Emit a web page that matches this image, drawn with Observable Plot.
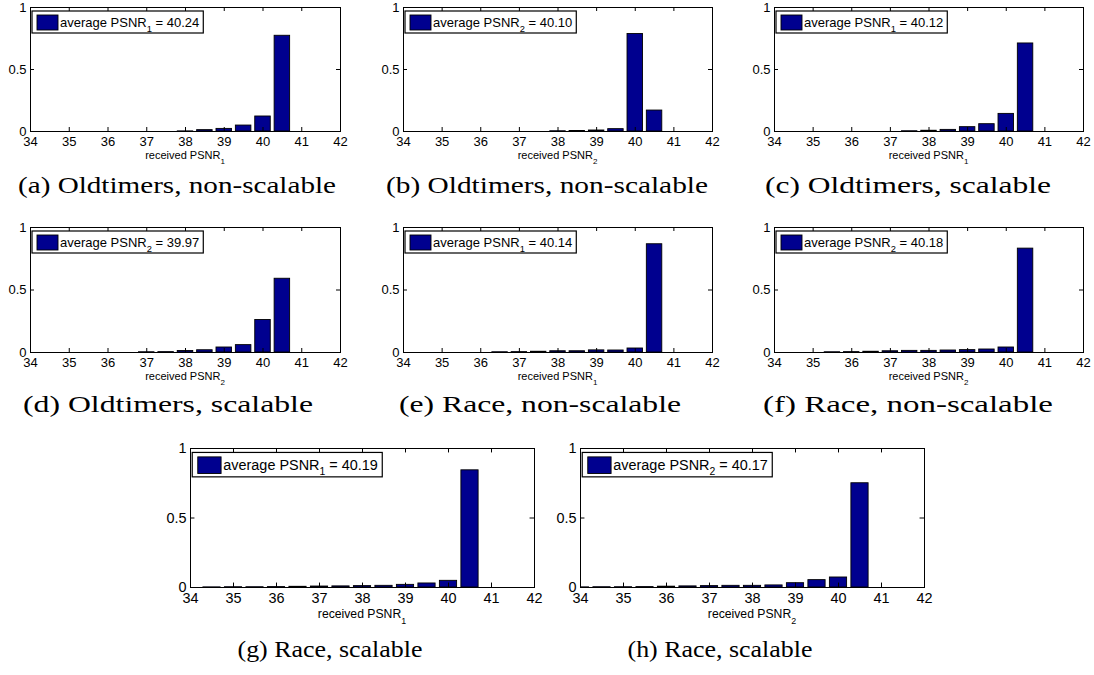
<!DOCTYPE html>
<html>
<head>
<meta charset="utf-8">
<script src="https://cdn.jsdelivr.net/npm/d3@7"></script>
<script src="https://cdn.jsdelivr.net/npm/@observablehq/plot@0.6"></script>
<style>
  html, body { margin: 0; padding: 0; background: #fff; }
  #fig { position: relative; width: 1094px; height: 675px; overflow: hidden; background: #fff; }
  #fig > svg { position: absolute; }
</style>
</head>
<body>
<div id="fig"></div>
<script>
// Histogram bin centres (received PSNR, dB) and axis ticks
const bins = [34, 34.5, 35, 35.5, 36, 36.5, 37, 37.5, 38, 38.5, 39, 39.5, 40, 40.5, 41, 41.5, 42];
const xTicks = [34, 35, 36, 37, 38, 39, 40, 41, 42];
const yTicks = [0, 0.5, 1];

// Relative frequency of the received PSNR per bin
const oldtimersNonScalable1 = [0, 0, 0, 0, 0, 0, 0, 0, 0.001, 0.011, 0.021, 0.048, 0.121, 0.772, 0, 0, 0];
const oldtimersNonScalable2 = [0, 0, 0, 0, 0, 0, 0, 0, 0.002, 0.004, 0.008, 0.019, 0.786, 0.169, 0, 0, 0];
const oldtimersScalable1    = [0, 0, 0, 0, 0, 0, 0, 0.002, 0.006, 0.013, 0.035, 0.059, 0.142, 0.710, 0, 0, 0];
const oldtimersScalable2    = [0, 0, 0, 0, 0, 0, 0.002, 0.003, 0.012, 0.018, 0.040, 0.059, 0.260, 0.590, 0, 0, 0];
const raceNonScalable1      = [0, 0, 0, 0, 0, 0.002, 0.003, 0.006, 0.010, 0.010, 0.017, 0.016, 0.032, 0.866, 0, 0, 0];
const raceNonScalable2      = [0, 0, 0, 0.002, 0.003, 0.006, 0.010, 0.013, 0.013, 0.016, 0.019, 0.024, 0.040, 0.831, 0, 0, 0];
const raceScalable1         = [0, 0.001, 0.002, 0.002, 0.003, 0.005, 0.007, 0.008, 0.010, 0.012, 0.019, 0.029, 0.048, 0.843, 0, 0, 0];
const raceScalable2         = [0.001, 0.002, 0.002, 0.003, 0.006, 0.008, 0.010, 0.012, 0.012, 0.015, 0.031, 0.053, 0.072, 0.750, 0, 0, 0];

const panelSeries  = [oldtimersNonScalable1, oldtimersNonScalable2, oldtimersScalable1, oldtimersScalable2,
                      raceNonScalable1, raceNonScalable2, raceScalable1, raceScalable2];
const panelStream  = ["1", "2", "1", "2", "1", "2", "1", "2"];
const panelAverage = ["40.24", "40.10", "40.12", "39.97", "40.14", "40.18", "40.19", "40.17"];
const panelCaption = ["(a) Oldtimers, non-scalable", "(b) Oldtimers, non-scalable", "(c) Oldtimers, scalable",
                      "(d) Oldtimers, scalable", "(e) Race, non-scalable", "(f) Race, non-scalable",
                      "(g) Race, scalable", "(h) Race, scalable"];

// Page layout: axes boxes (left, right, top, bottom), scale factor, caption placement
const frames = [
  {l: 30,  r: 340,  t: 7,   b: 131, s: 1},
  {l: 403, r: 712,  t: 7,   b: 131, s: 1},
  {l: 774, r: 1083, t: 7,   b: 131, s: 1},
  {l: 30,  r: 340,  t: 227, b: 352, s: 1},
  {l: 403, r: 712,  t: 227, b: 352, s: 1},
  {l: 774, r: 1083, t: 227, b: 352, s: 1},
  {l: 190, r: 534,  t: 448, b: 587, s: 1.11},
  {l: 580, r: 924,  t: 448, b: 587, s: 1.11}
];
const captionLayout = [
  {cx: 177, y: 193, w: 318}, {cx: 547, y: 193, w: 322}, {cx: 908, y: 193, w: 286},
  {cx: 168, y: 412, w: 290}, {cx: 540, y: 412, w: 282}, {cx: 908, y: 412, w: 290},
  {cx: 330, y: 657, w: 185}, {cx: 720, y: 657, w: 185}
];

const barColor = "#00008f";
const sans = "'Liberation Sans', Arial, Helvetica, sans-serif";
const fig = document.getElementById("fig");

frames.forEach((f, i) => {
  const s = f.s;
  const w = f.r - f.l, h = f.b - f.t;
  const mL = 40, mR = 12, mT = 10, mB = 24;
  const tick = 4 * s;
  const data = bins.map((x, k) => ({x, p: panelSeries[i][k]}));
  const chart = Plot.plot({
    width: w + mL + mR,
    height: h + mT + mB,
    marginLeft: mL, marginRight: mR, marginTop: mT, marginBottom: mB,
    x: {type: "linear", domain: [34, 42]},
    y: {type: "linear", domain: [0, 1]},
    style: {fontFamily: sans, fontSize: `${13 * s}px`, color: "#000", background: "transparent", overflow: "visible"},
    marks: [
      Plot.rect(data, {x1: d => d.x - 0.2, x2: d => d.x + 0.2, y1: 0, y2: "p",
                       fill: barColor, stroke: "#000", strokeWidth: 0.9, clip: true}),
      // inward ticks on all four sides
      Plot.tickX(xTicks, {x: d => d, insetTop: h - tick, stroke: "#000"}),
      Plot.tickX(xTicks, {x: d => d, insetBottom: h - tick, stroke: "#000"}),
      Plot.tickY(yTicks, {y: d => d, insetRight: w - tick, stroke: "#000"}),
      Plot.tickY(yTicks, {y: d => d, insetLeft: w - tick, stroke: "#000"}),
      Plot.frame({stroke: "#000", strokeWidth: 1}),
      Plot.axisX({ticks: xTicks, tickSize: 0, tickPadding: 5, label: null, tickFormat: d => String(d)}),
      Plot.axisY({ticks: yTicks, tickSize: 0, tickPadding: 4, label: null, tickFormat: d => String(d)})
    ]
  });
  chart.style.left = `${f.l - mL}px`;
  chart.style.top = `${f.t - mT}px`;
  fig.appendChild(chart);
});

// Legends, axis titles and sub-figure captions
const overlay = d3.select(fig).append("svg")
  .attr("width", 1094).attr("height", 675)
  .style("left", "0px").style("top", "0px")
  .attr("font-family", sans);

frames.forEach((f, i) => {
  const s = f.s;
  const fs = 13 * s;

  const g = overlay.append("g").attr("transform", `translate(${f.l + 2 * s},${f.t + 4 * s})`);
  const box = g.append("rect").attr("height", 22 * s).attr("fill", "#fff").attr("stroke", "#000").attr("stroke-width", 1.2);
  g.append("rect").attr("x", 5 * s).attr("y", 4 * s).attr("width", 21 * s).attr("height", 15 * s)
    .attr("fill", barColor).attr("stroke", "#000").attr("stroke-width", 0.9);
  const t = g.append("text").attr("x", 28 * s).attr("y", 15.5 * s).attr("font-size", fs);
  t.append("tspan").text("average PSNR");
  t.append("tspan").attr("font-size", fs * 0.72).attr("dy", 5 * s).text(panelStream[i]);
  t.append("tspan").attr("dy", -5 * s).text(" = " + panelAverage[i]);
  box.attr("width", 28 * s + t.node().getComputedTextLength() + 4 * s);

  const xl = overlay.append("text")
    .attr("x", (f.l + f.r) / 2).attr("y", f.b + 28 * s)
    .attr("text-anchor", "middle").attr("font-size", 11 * s);
  xl.append("tspan").text("received PSNR");
  xl.append("tspan").attr("font-size", 8 * s).attr("dy", 5 * s).text(panelStream[i]);

  const c = captionLayout[i];
  overlay.append("text")
    .attr("x", c.cx).attr("y", c.y)
    .attr("text-anchor", "middle")
    .attr("font-family", "'Liberation Serif', 'Times New Roman', serif")
    .attr("font-size", 23)
    .attr("textLength", c.w).attr("lengthAdjust", "spacingAndGlyphs")
    .text(panelCaption[i]);
});
</script>
</body>
</html>
